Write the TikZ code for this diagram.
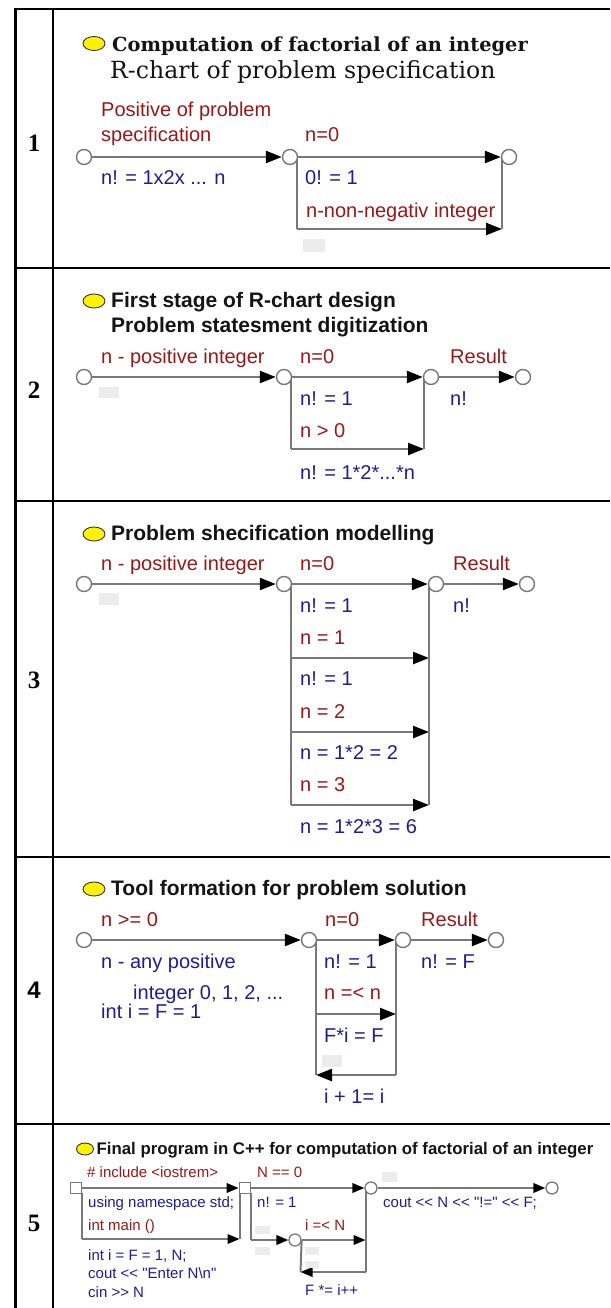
\documentclass[tikz,border=0pt]{standalone}
\usepackage{fontspec}
\usetikzlibrary{arrows.meta,shapes.geometric}
\newfontfamily\labf{Liberation Sans}
\newfontfamily\serff{Liberation Serif}
\newfontfamily\dvserif{DejaVu Serif}
\definecolor{lred}{RGB}{150,25,25}
\definecolor{lblue}{RGB}{30,30,145}
\definecolor{lgray}{RGB}{120,120,120}
\definecolor{gbox}{RGB}{236,236,236}
\definecolor{ttlc}{RGB}{20,20,20}
\pgfdeclarelayer{bg}
\pgfdeclarelayer{paper}
\pgfsetlayers{paper,bg,main}
\tikzset{
  tbl/.style={draw=black, line width=2.6pt},
  conn/.style={draw=lgray, line width=2.4pt},
  arr/.style={conn, -{Triangle[length=16pt,width=12pt,color=black]}},
  conn5/.style={draw=lgray, line width=2pt},
  arr5/.style={conn5, -{Triangle[length=12pt,width=9.5pt,color=black]}},
  pt/.style={circle, draw=lgray, fill=white, line width=1.4pt, minimum size=15pt, inner sep=0pt},
  pt5/.style={circle, draw=lgray, fill=white, line width=1.3pt, minimum size=12pt, inner sep=0pt},
  sq/.style={rectangle, draw=lgray, fill=white, line width=1.3pt, minimum size=11.5pt, inner sep=0pt},
  ell/.style={ellipse, draw=black!80, fill=yellow, line width=0.9pt, minimum width=22pt, minimum height=14pt, inner sep=0pt},
  ell5/.style={ell, minimum width=17pt, minimum height=12pt},
  lab/.style={font=\labf\fontsize{20}{24}\selectfont, inner sep=0pt, anchor=base west},
  rl/.style={lab, text=lred},
  bl/.style={lab, text=lblue},
  lab5/.style={font=\labf\fontsize{15}{18}\selectfont, inner sep=0pt, anchor=base west},
  rs/.style={lab5, text=lred},
  bs/.style={lab5, text=lblue},
  ttl/.style={font=\labf\bfseries\fontsize{21}{25}\selectfont, text=ttlc, inner sep=0pt, anchor=base west},
  ttl5/.style={ttl, font=\labf\bfseries\fontsize{16.8}{20}\selectfont},
  ttla/.style={font=\dvserif\bfseries\fontsize{19.4}{23}\selectfont, text=ttlc, inner sep=0pt, anchor=base west},
  ttlb/.style={font=\dvserif\fontsize{23.6}{28}\selectfont, text=ttlc, inner sep=0pt, anchor=base west},
  num/.style={font=\serff\bfseries\fontsize{25}{30}\selectfont, inner sep=0pt},
  nums/.style={font=\labf\bfseries\fontsize{24}{29}\selectfont, inner sep=0pt},
  gb/.style={fill=gbox, draw=none}
}
\begin{document}
\begin{tikzpicture}[x=1pt,y=-1pt]
\useasboundingbox (0,0) rectangle (610,1308);
\begin{pgfonlayer}{paper}
\fill[white] (0,0) rectangle (610,1308);
\end{pgfonlayer}
% table
\draw[tbl] (15.5,9) -- (610,9);
\draw[tbl] (15.5,268) -- (610,268);
\draw[tbl] (15.5,501) -- (610,501);
\draw[tbl] (15.5,857) -- (610,857);
\draw[tbl] (15.5,1124) -- (610,1124);
\draw[tbl] (15.5,7.7) -- (15.5,1308);
\draw[tbl] (53,9) -- (53,1308);
% numbers
\node[num] (n1) at (34,143) {1};
\node[num] (n2) at (34,390) {2};
\node[num] (n3) at (34,680) {3};
\node[nums] (n4) at (34,990) {4};
\node[num] (n5) at (34,1223) {5};

% ---------- row 1
\node[ell] (e1) at (94,43.5) {};
\node[ttla] (t1a) at (112,52) {Computation of factorial of an integer};
\node[ttlb] (t1b) at (110,79) {R-chart of problem specification};
\node[rl] (l1a) at (101,117) {Positive of problem};
\node[rl] (l1b) at (101,142) {specification};
\node[rl] (l1c) at (305,142) {n=0};
\node[bl] (l1d) at (101,185) {n! = 1x2x ... n};
\node[bl] (l1e) at (305,185) {0! = 1};
\node[rl] (l1f) at (306,217) {n-non-negativ integer};
\fill[gb] (303,239) rectangle (325,252);
\node[pt] (a1) at (84,157) {};
\node[pt] (b1) at (290,157) {};
\node[pt] (c1) at (509,157) {};
\coordinate (b1u) at (297,157);
\coordinate (b1d) at (297,229);
\coordinate (c1d) at (502,229);
\coordinate (c1u) at (502,157);
\begin{pgfonlayer}{bg}
\draw[arr] (a1) -- (b1);
\draw[arr] (b1) -- (c1);
\draw[conn] (b1u) -- (b1d);
\draw[arr] (b1d) -- (c1d);
\draw[conn] (c1d) -- (c1u);
\end{pgfonlayer}

% ---------- row 2
\node[ell] (e2) at (94,301) {};
\node[ttl] (t2a) at (111,307.5) {First stage of R-chart design};
\node[ttl] (t2b) at (111,332.5) {Problem statesment digitization};
\node[rl] (l2a) at (101,363) {n - positive integer};
\node[rl] (l2b) at (300,363) {n=0};
\node[rl] (l2c) at (450,363) {Result};
\node[bl] (l2d) at (300,405) {n! = 1};
\node[bl] (l2e) at (450,405) {n!};
\node[rl] (l2f) at (300,437) {n > 0};
\node[bl] (l2g) at (300,479) {n! = 1*2*...*n};
\fill[gb] (99,387) rectangle (119,398);
\node[pt] (a2) at (84,377) {};
\node[pt] (b2) at (284,377) {};
\node[pt] (c2) at (431,377) {};
\node[pt] (d2) at (523,377) {};
\coordinate (b2u) at (291,377);
\coordinate (b2d) at (291,449);
\coordinate (c2d) at (424,449);
\coordinate (c2u) at (424,377);
\begin{pgfonlayer}{bg}
\draw[arr] (a2) -- (b2);
\draw[arr] (b2) -- (c2);
\draw[arr] (c2) -- (d2);
\draw[conn] (b2u) -- (b2d);
\draw[arr] (b2d) -- (c2d);
\draw[conn] (c2d) -- (c2u);
\end{pgfonlayer}

% ---------- row 3
\node[ell] (e3) at (94,534) {};
\node[ttl] (t3a) at (111,540.5) {Problem shecification modelling};
\node[rl] (l3a) at (101,570) {n - positive integer};
\node[rl] (l3b) at (300,570) {n=0};
\node[rl] (l3c) at (453,570) {Result};
\node[bl] (l3d) at (300,612) {n! = 1};
\node[bl] (l3e) at (453,612) {n!};
\node[rl] (l3f) at (300,644) {n = 1};
\node[bl] (l3g) at (300,685) {n! = 1};
\node[rl] (l3h) at (300,718) {n = 2};
\node[bl] (l3i) at (300,759) {n = 1*2 = 2};
\node[rl] (l3j) at (300,791) {n = 3};
\node[bl] (l3k) at (300,833) {n = 1*2*3 = 6};
\fill[gb] (99,593) rectangle (119,605);
\node[pt] (a3) at (84,584) {};
\node[pt] (b3) at (284,584) {};
\node[pt] (c3) at (436,584) {};
\node[pt] (d3) at (527,584) {};
\coordinate (b3u) at (291,584);
\coordinate (b3p) at (291,658);
\coordinate (b3q) at (291,732);
\coordinate (b3d) at (291,805);
\coordinate (c3u) at (429,584);
\coordinate (c3p) at (429,658);
\coordinate (c3q) at (429,732);
\coordinate (c3d) at (429,805);
\begin{pgfonlayer}{bg}
\draw[arr] (a3) -- (b3);
\draw[arr] (b3) -- (c3);
\draw[arr] (c3) -- (d3);
\draw[conn] (b3u) -- (b3d);
\draw[arr] (b3p) -- (c3p);
\draw[arr] (b3q) -- (c3q);
\draw[arr] (b3d) -- (c3d);
\draw[conn] (c3d) -- (c3u);
\end{pgfonlayer}

% ---------- row 4
\node[ell] (e4) at (94,889) {};
\node[ttl] (t4a) at (111,895.5) {Tool formation for problem solution};
\node[rl] (l4a) at (101,926) {n >= 0};
\node[rl] (l4b) at (325,926) {n=0};
\node[rl] (l4c) at (421,926) {Result};
\node[bl] (l4d) at (101,968) {n - any positive};
\node[bl] (l4e) at (133,999) {integer 0, 1, 2, ...};
\node[bl] (l4f) at (101,1018) {int i = F = 1};
\node[bl] (l4g) at (324,968) {n! = 1};
\node[bl] (l4h) at (421,968) {n! = F};
\node[rl] (l4i) at (324,999) {n =< n};
\node[bl] (l4j) at (324,1042) {F*i = F};
\node[bl] (l4k) at (324,1103) {i + 1= i};
\fill[gb] (322,1055) rectangle (342,1067);
\node[pt] (a4) at (84,940) {};
\node[pt] (b4) at (309,940) {};
\node[pt] (c4) at (403,940) {};
\node[pt] (d4) at (496,940) {};
\coordinate (b4u) at (316,940);
\coordinate (b4p) at (316,1014);
\coordinate (b4d) at (316,1075);
\coordinate (c4u) at (396,940);
\coordinate (c4p) at (396,1014);
\coordinate (c4d) at (396,1075);
\begin{pgfonlayer}{bg}
\draw[arr] (a4) -- (b4);
\draw[arr] (b4) -- (c4);
\draw[arr] (c4) -- (d4);
\draw[conn] (b4u) -- (b4d);
\draw[conn] (c4u) -- (c4d);
\draw[arr] (b4p) -- (c4p);
\draw[arr] (c4d) -- (b4d);
\end{pgfonlayer}

% ---------- row 5
\node[ell5] (e5) at (85,1149) {};
\node[ttl5] (t5a) at (96.5,1154) {Final program in C++ for computation of factorial of an integer};
\node[rs] (l5a) at (87,1177) {\# include <iostrem>};
\node[rs] (l5b) at (257,1177) {N == 0};
\node[bs] (l5c) at (88,1207) {using namespace std;};
\node[bs] (l5d) at (257,1207) {n! = 1};
\node[bs] (l5e) at (383,1207) {cout << N << "!=" << F;};
\node[rs] (l5f) at (88,1230) {int main ()};
\node[rs] (l5g) at (305,1230) {i =< N};
\node[bs] (l5h) at (88,1260) {int i = F = 1, N;};
\node[bs] (l5i) at (88,1278) {cout << "Enter N\textbackslash n"};
\node[bs] (l5j) at (88,1297) {cin >> N};
\node[bs] (l5k) at (305,1295) {F *= i++};
\fill[gb] (255,1226) rectangle (270,1234);
\fill[gb] (255,1247) rectangle (270,1255);
\fill[gb] (305,1247) rectangle (319,1255);
\fill[gb] (305,1261) rectangle (319,1268);
\fill[gb] (382,1172) rectangle (397,1182);
\node[sq] (s51) at (76,1188) {};
\node[sq] (s52) at (245,1188) {};
\node[pt5] (c51) at (371,1188) {};
\node[pt5] (c52) at (552,1188) {};
\node[pt5] (c53) at (295,1240) {};
\coordinate (p1u) at (81.5,1193);
\coordinate (p1d) at (81.5,1239);
\coordinate (q1d) at (239.5,1239);
\coordinate (q1u) at (239.5,1193);
\coordinate (p2u) at (250.5,1193);
\coordinate (p2d) at (250.5,1240);
\coordinate (q2m) at (365.5,1240);
\coordinate (q2u) at (365.5,1188);
\coordinate (q2d) at (365.5,1272);
\coordinate (r2d) at (300.5,1272);
\begin{pgfonlayer}{bg}
\draw[arr5] (s51) -- (s52);
\draw[arr5] (s52) -- (c51);
\draw[arr5] (c51) -- (c52);
\draw[conn5] (p1u) -- (p1d);
\draw[arr5] (p1d) -- (q1d);
\draw[conn5] (q1d) -- (q1u);
\draw[conn5] (p2u) -- (p2d);
\draw[arr5] (p2d) -- (c53);
\draw[arr5] (c53) -- (q2m);
\draw[conn5] (q2u) -- (q2d);
\draw[arr5] (q2d) -- (r2d);
\draw[conn5] (r2d) -- (c53.east);
\end{pgfonlayer}
\end{tikzpicture}
\end{document}
